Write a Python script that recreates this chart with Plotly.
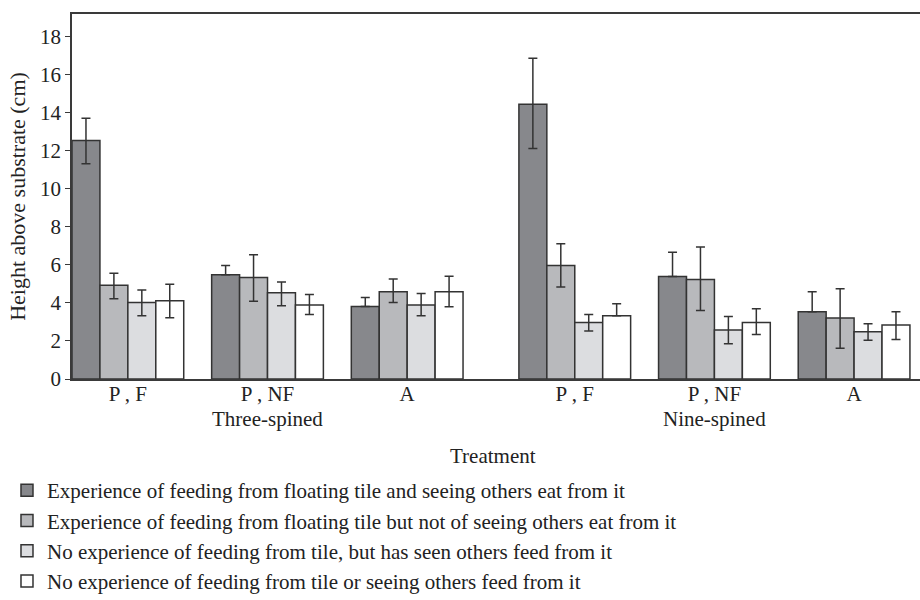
import plotly.graph_objects as go

species = ["Three-spined", "Three-spined", "Three-spined", "Nine-spined", "Nine-spined", "Nine-spined"]
treatments = ["P , F", "P , NF", "A", "P , F", "P , NF", "A"]

series_names = [
    "Experience of feeding from floating tile and seeing others eat from it",
    "Experience of feeding from floating tile but not of seeing others eat from it",
    "No experience of feeding from tile, but has seen others feed from it",
    "No experience of feeding from tile or seeing others feed from it",
]

feed_seen = [12.52, 5.47, 3.81, 14.43, 5.38, 3.53]
feed_seen_up = [1.17, 0.49, 0.47, 2.41, 1.28, 1.05]
feed_seen_down = [1.22, 0.0, 0.0, 2.33, 0.0, 0.0]

feed_notseen = [4.93, 5.33, 4.58, 5.96, 5.23, 3.20]
feed_notseen_up = [0.63, 1.19, 0.67, 1.14, 1.70, 1.54]
feed_notseen_down = [0.72, 1.24, 0.56, 1.13, 1.63, 1.59]

nofeed_seen = [4.02, 4.53, 3.88, 2.97, 2.57, 2.48]
nofeed_seen_up = [0.65, 0.56, 0.61, 0.42, 0.71, 0.42]
nofeed_seen_down = [0.70, 0.68, 0.56, 0.45, 0.72, 0.45]

nofeed_notseen = [4.11, 3.88, 4.58, 3.32, 2.97, 2.83]
nofeed_notseen_up = [0.87, 0.56, 0.81, 0.63, 0.72, 0.70]
nofeed_notseen_down = [0.89, 0.49, 0.79, 0.0, 0.63, 0.75]

values = [feed_seen, feed_notseen, nofeed_seen, nofeed_notseen]
ups = [feed_seen_up, feed_notseen_up, nofeed_seen_up, nofeed_notseen_up]
downs = [feed_seen_down, feed_notseen_down, nofeed_seen_down, nofeed_notseen_down]
colors = ["#87888c", "#b8b9bc", "#dcdde0", "#ffffff"]

# layout positions: groups 5 units apart, extra 1 unit gap between species
species_order = ["Three-spined", "Nine-spined"]
x_pos = []
for i, sp in enumerate(species):
    x_pos.append(2 + 5 * i + species_order.index(sp))

FONT = "Liberation Serif"
FS = 21
fig = go.Figure()
for k in range(4):
    fig.add_trace(go.Bar(
        x=x_pos, y=values[k], name=series_names[k],
        marker=dict(color=colors[k], line=dict(color="#333333", width=1.5)),
        error_y=dict(type="data", symmetric=False, array=ups[k], arrayminus=downs[k],
                     color="#333333", thickness=1.5, width=4.5),
    ))

annotations = []
for sp in species_order:
    xs = [x for x, s in zip(x_pos, species) if s == sp]
    annotations.append(dict(x=sum(xs) / len(xs), y=0, xref="x", yref="paper",
                            text=sp, showarrow=False, yshift=-40, yanchor="middle",
                            font=dict(family=FONT, size=FS, color="#222")))
annotations.append(dict(x=0.496, y=0, xref="paper", yref="paper", text="Treatment",
                        showarrow=False, yshift=-77, yanchor="middle",
                        font=dict(family=FONT, size=FS, color="#222")))

fig.update_layout(
    width=920, height=600,
    margin=dict(l=72, r=0, t=14, b=221),
    paper_bgcolor="white", plot_bgcolor="white",
    barmode="group", bargap=0.2, bargroupgap=0,
    font=dict(family=FONT, size=FS, color="#222"),
    xaxis=dict(range=[0, 30.36], tickvals=x_pos, ticktext=treatments, tickangle=0,
               showline=True, mirror=True, linecolor="#3a3a3a", linewidth=1.5,
               showgrid=False, zeroline=False, ticks="", ticklabelstandoff=-5,
               tickfont=dict(family=FONT, size=FS, color="#222")),
    yaxis=dict(range=[0, 19.17], tickvals=list(range(0, 20, 2)),
               showline=True, linecolor="#3a3a3a", linewidth=1.5,
               showgrid=False, zeroline=False, ticks="outside", ticklen=5,
               tickcolor="#3a3a3a", tickwidth=1,
               title=dict(text="Height above substrate (cm)", standoff=8,
                          font=dict(family=FONT, size=22, color="#222")),
               tickfont=dict(family=FONT, size=FS, color="#222")),
    legend=dict(orientation="h", entrywidthmode="fraction", entrywidth=1,
                xref="container", yref="container", x=0.0076, y=1 - 470 / 600,
                xanchor="left", yanchor="top", traceorder="normal",
                font=dict(family=FONT, size=FS, color="#222")),
    annotations=annotations,
    showlegend=True,
)

fig.write_html("out.html")
